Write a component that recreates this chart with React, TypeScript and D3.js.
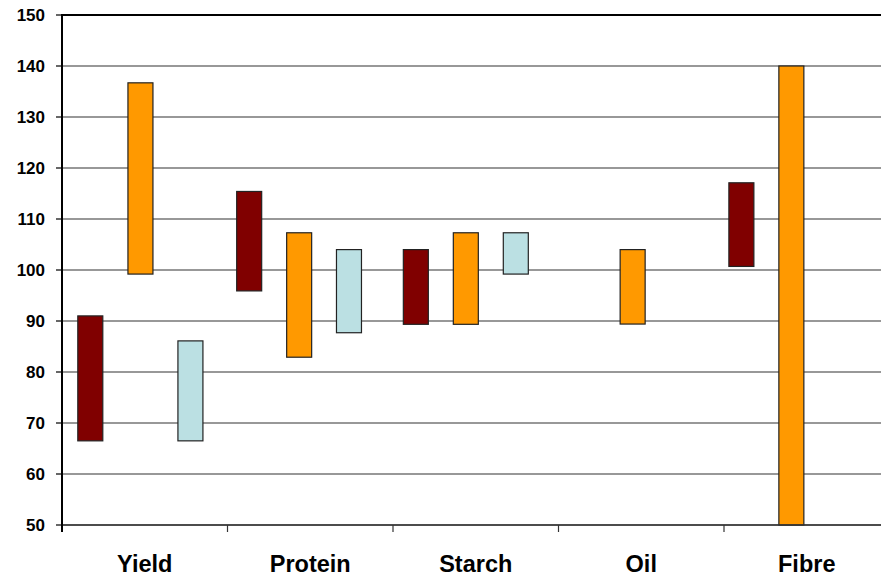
import React from "react";
import * as d3 from "d3";

const categories = ["Yield", "Protein", "Starch", "Oil", "Fibre"];
const yTicks = [50, 60, 70, 80, 90, 100, 110, 120, 130, 140, 150];

// Each bar: category-unit x position (centre), low, high
const seriesA = { name: "A", color: "#800000",
  pos: [0.171, 1.131, 2.138, 4.105],
  low: [66.5, 95.9, 89.35, 100.7],
  high: [91.0, 115.4, 104.0, 117.1] };
const seriesB = { name: "B", color: "#FF9900",
  pos: [0.474, 1.433, 2.44, 3.448, 4.407],
  low: [99.2, 82.9, 89.35, 89.4, 50],
  high: [136.7, 107.3, 107.3, 104.0, 140] };
const seriesC = { name: "C", color: "#BBE0E3",
  pos: [0.776, 1.734, 2.742],
  low: [66.5, 87.7, 99.2],
  high: [86.1, 104.0, 107.3] };
const allSeries = [seriesA, seriesB, seriesC];

export default function App() {
  const W = 881, H = 575;
  const left = 62, top = 15, bottom = 525;
  const x = d3.scaleLinear().domain([0, categories.length]).range([left, 889.5]);
  const y = d3.scaleLinear().domain([50, 150]).range([bottom, top]);
  const barW = 25;
  const font = "'Liberation Sans', Arial, Helvetica, sans-serif";

  return (
    <svg width={W} height={H} style={{ position: "fixed", left: 0, top: 0, background: "#fff" }}>
      {/* gridlines */}
      {yTicks.map((t) => (
        <line key={"g" + t} x1={left} x2={W} y1={y(t)} y2={y(t)}
          stroke={t === 150 ? "#000" : "#333"} strokeWidth={t === 150 ? 2 : 1.2} />
      ))}
      {/* y tick marks and labels */}
      {yTicks.map((t) => (
        <g key={"t" + t}>
          <line x1={left - 6} x2={left} y1={y(t)} y2={y(t)} stroke="#000" strokeWidth={1.2} />
          <text x={45} y={y(t)} dy="0.35em" textAnchor="end" fontFamily={font}
            fontWeight="bold" fontSize={17} fill="#000">{t}</text>
        </g>
      ))}
      {/* bars */}
      {allSeries.map((s) =>
        s.pos.map((p, i) => (
          <rect key={s.name + i} x={x(p) - barW / 2} y={y(s.high[i])} width={barW}
            height={y(s.low[i]) - y(s.high[i])} fill={s.color} stroke="#222" strokeWidth={1.2} />
        ))
      )}
      {/* x axis */}
      <line x1={left} x2={W} y1={bottom} y2={bottom} stroke="#333" strokeWidth={1.5} />
      {d3.range(categories.length + 1).map((i) => (
        <line key={"xt" + i} x1={x(i)} x2={x(i)} y1={bottom} y2={bottom + 7} stroke="#333" strokeWidth={1.2} />
      ))}
      {categories.map((c, i) => (
        <text key={c} x={x(i + 0.5)} y={571.5} textAnchor="middle" fontFamily={font}
          fontWeight="bold" fontSize={23.5} fill="#000">{c}</text>
      ))}
      {/* y axis */}
      <line x1={left} x2={left} y1={top - 1} y2={bottom + 7} stroke="#000" strokeWidth={2} />
    </svg>
  );
}
